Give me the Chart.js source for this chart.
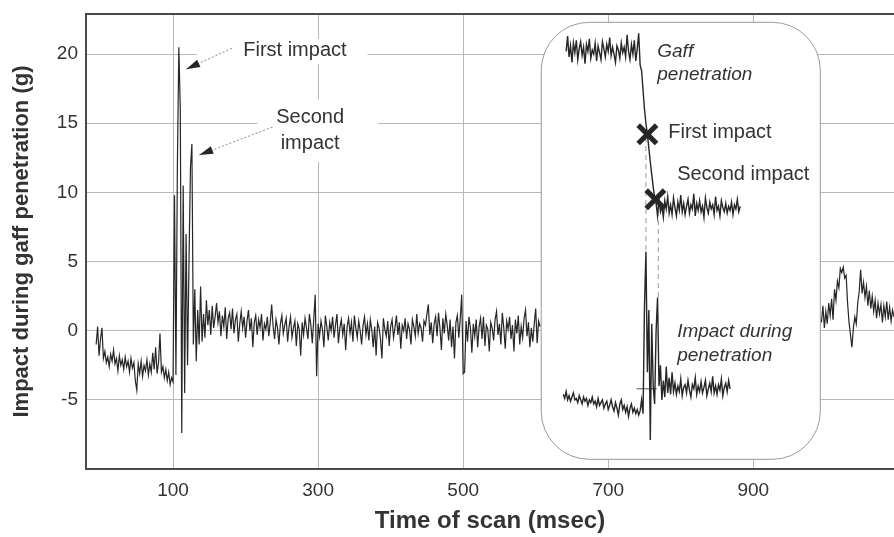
<!DOCTYPE html>
<html>
<head>
<meta charset="utf-8">
<script src="https://cdn.jsdelivr.net/npm/chart.js@4.4.0/dist/chart.umd.min.js"></script>
<style>
  html, body { margin: 0; padding: 0; background: #fff; }
  #wrap { width: 894px; height: 537px; }
</style>
</head>
<body>
<div id="wrap"><canvas id="chart" width="894" height="537"></canvas></div>
<script>
/* ====== DATA (g, sampled every 2 msec) ====== */
const STEP_MS = 2;

const xTicks = [100, 300, 500, 700, 900];
const yTicks = [-10, -5, 0, 5, 10, 15, 20];

// main trace before the strike, starts at -6 msec
const preImpact = [
  -1.0, 0.3, -1.8, -0.6, 0.2, -2.0, -1.5, -2.3, -1.9, -2.6,
  -1.7, -2.2, -1.4, -2.4, -2.0, -2.9, -1.8, -2.5, -2.1, -2.8,
  -1.9, -2.6, -2.2, -3.0, -2.0, -2.7, -2.3, -3.6, -4.3, -2.4,
  -3.1, -2.2, -3.3, -2.5, -2.9, -2.1, -3.2, -2.4, -3.0, -1.6,
  -2.8, -1.2, -3.1, -2.3, -0.2, -3.0, -2.6, -3.4, -2.8, -3.6,
  -3.0, -3.9, -3.4
];
// impact burst, starts at 100 msec
const impactBurst = [
  -3.7, 9.8, -3.2, 12.0, 20.5, 16.0, -7.4, 10.5, -4.5, 7.0,
  -2.5, 5.0, 11.8, 13.5, -1.0, 3.0, -2.2, 1.5, -1.0, 3.2, -0.8
];
// after impact, starts at 142 msec
const afterImpact = [
  1.2, -0.5, 2.2, 0.4, 1.5, -0.3, 1.8, 0.2, 1.0, 2.0,
  0.6, 1.4, -0.4, 1.1, 0.3, 1.7, -0.6, 0.9, 1.3, 0.1,
  1.6, -0.2, 0.8, 1.2, -0.8, 0.5, 1.4, 0.2, 1.0, -0.5,
  0.7, 1.5, 0.0, 0.9, -1.2, 0.6, 1.1, -0.3, 0.8, 0.2,
  1.2, -0.7, 0.5, 0.1, 1.0, -0.4, 0.6, 1.9, 0.3, -0.6,
  0.8, 0.2, -1.0, 0.5, 1.1, -0.2, 0.4, 0.9, -0.8, 0.3,
  1.0, -0.5, 0.2, 0.7, -1.1, 0.5, 0.1, -1.8, 0.6, -0.3,
  0.9, 0.2, -0.6, 1.2, 0.4, -0.9, 0.8, 2.6, -3.3, 0.5,
  -0.4, 0.7, 0.1, -1.2, 1.1, 0.3, -0.7, 0.6, 0.0, 1.0,
  -0.5, 0.4, 1.2, -0.9, 0.2, 0.8, -0.3, 0.5, -1.4, 0.3,
  0.9, -0.2, 0.6, -0.8, 1.1, 0.2, -0.5, 0.7, 0.0, -1.0,
  0.4, 1.0, -0.3, 0.5, -0.7, 0.8, 0.1, -1.2, 0.3, -1.8,
  0.6, 0.2, -0.6, -2.0, 0.9, 0.1, -0.4, 0.7, -1.1, 0.3,
  0.8, -0.5, 0.2, 1.1, -0.3, 0.6, -1.3, 0.4, 0.0, 0.9,
  -0.6, 0.5, 0.1, -1.0, 0.8, 0.3, -0.4, 1.2, -0.2, 0.5,
  0.2, -0.8, 0.7, 0.4, 1.2, 1.9, -0.3, 0.6, -0.9, 0.5,
  1.0, -0.4, 1.3, 0.2, -1.4, 0.9, -0.2, 1.2, 0.4, -0.7,
  0.8, -1.2, 0.3, -2.0, 0.6, 1.1, -0.5, 0.9, 2.6, -3.1,
  -3.0, 0.7, -0.8, 1.0, 0.2, -1.6, 0.5, -0.4, 0.8, -1.2,
  0.3, 0.9, -0.6, 1.0, -1.1, 0.4, 0.1, -1.5, 0.6, 0.2,
  -0.7, 0.8, 1.4, -0.3, 0.5, -1.0, 1.3, 0.2, -1.3, 0.7,
  0.1, 1.0, -0.6, 0.4, -1.5, 0.8, -0.2, 1.1, -1.0, 0.3,
  -0.5, 0.9, 1.5, -0.4, 0.6, -1.2, 0.2, -0.8, 0.5, 1.6,
  -0.9, 0.7, 0.3
];
// trace to the right of the inset, starts at 994 msec
const tailTrace = [
  0.6, 1.8, 0.2, 1.4, 0.5, 2.0, 1.1, 2.3, 0.8, 3.0,
  2.2, 3.6, 3.1, 4.5, 4.2, 4.6, 3.8, 4.0, 2.0, 0.6,
  -0.3, -1.2, 0.2, 1.0, 0.5, 2.0, 2.8, 4.4, 2.7, 3.5,
  2.4, 3.2, 1.8, 2.9, 1.6, 2.5, 1.4, 2.2, 0.9, 2.0,
  1.2, 1.9, 0.6, 1.8, 1.0, 2.1, 0.8, 1.7, 0.7, 1.5, 1.0
];

// inset, upper record (gaff penetration), starts at 642 msec
const gaffTop = [
  20.2, 21.3, 19.8, 20.6, 19.4, 20.8, 20.1, 21.0, 19.6, 20.4,
  20.9, 19.9, 20.5, 19.3, 20.7, 20.2, 21.1, 19.7, 20.3, 20.0,
  20.8, 19.5, 20.6, 20.1, 19.6, 20.9, 20.4, 19.8, 20.7, 20.2,
  21.2, 19.9, 20.5, 20.0, 19.4, 20.6, 20.3, 19.7, 20.8, 20.1,
  20.5, 19.8, 21.4, 20.2, 19.6, 20.7, 20.0, 21.0, 19.5, 20.4,
  21.5, 19.2,
  18.8, 17.4, 16.0, 15.0, 14.2, 13.2, 12.2, 11.3, 10.4, 9.6,
  9.2, 8.3, 9.5, 8.6, 9.0, 8.2, 9.4, 8.8, 9.7, 8.5,
  9.1, 8.4, 9.6, 8.9, 8.3, 9.3, 8.7, 9.8, 8.6, 9.2,
  8.4, 9.0, 9.5, 8.5, 9.1, 8.8, 9.9, 8.3, 9.2, 8.7,
  9.4, 8.6, 9.0, 8.2, 9.6, 8.9, 8.5, 9.3, 8.8, 9.1,
  8.4, 9.7, 8.7, 9.0, 8.3, 9.4, 8.9, 8.6, 9.2, 8.5,
  9.0, 8.7, 9.3, 8.4, 9.1, 8.8, 9.5, 8.6, 9.0
];
// inset, lower record (impact during penetration), starts at 638 msec
const gaffBottom = [
  -4.6, -4.9, -4.4, -5.0, -4.7, -5.1, -4.8, -4.5, -5.0, -4.9,
  -5.2, -4.7, -5.0, -5.3, -4.8, -5.1, -4.9, -5.4, -5.0, -5.2,
  -4.8, -5.3, -5.1, -5.5, -4.9, -5.4, -5.2, -5.0, -5.6, -5.3,
  -5.1, -5.7, -5.4, -5.0, -5.5, -5.8, -5.2, -5.6, -6.1, -5.3,
  -5.0, -5.7, -5.4, -5.9, -5.5, -6.2, -5.6, -5.3, -5.9, -5.6,
  -6.0, -5.7, -6.1, -5.8,
  -5.0, -6.0, 1.8, 5.7, -3.0, 1.5, -7.9, 0.5, -4.0, -5.3,
  0.0, 2.4, -4.0, -2.5, -5.0, -3.6, -4.8, -2.6, -4.5, -3.4,
  -4.6, -3.0, -4.4,
  -3.8, -4.6, -4.0, -4.4, -3.5, -4.7, -4.1, -3.9, -4.5, -3.6,
  -4.3, -4.8, -3.9, -4.2, -3.4, -4.6, -4.0, -4.4, -3.7, -4.5,
  -4.1, -3.6, -4.7, -4.2, -3.8, -4.4, -3.3, -4.5, -4.0, -4.6,
  -3.9, -4.3, -3.5, -4.7, -4.1, -3.8, -4.4, -3.6, -4.2
];

// impact marks on the upper inset record [msec, g]
const impactMarks = [[754, 14.2], [765, 9.5]];
// dashed guides from the marks down to the lower record
const guideFirst = [[752, 14.0], [752, 5.7]];
const guideSecond = [[769, 9.3], [769, 2.4]];
const baseMark = [[739, -4.2], [767, -4.2]];

/* ====== BUILD POINTS ====== */
function toPoints(start, values) {
  return values.map((v, i) => ({ x: start + i * STEP_MS, y: v }));
}
const pairs = (arr) => arr.map((p) => ({ x: p[0], y: p[1] }));

const mainPoints = [
  ...toPoints(-6, preImpact),
  ...toPoints(100, impactBurst),
  ...toPoints(142, afterImpact),
];

const INK = "#262626";
const TXT = "#333333";
const FONT = "'Liberation Sans', Arial, sans-serif";

/* ====== DECORATION PLUGIN ====== */
function arrow(ctx, x0, y0, x1, y1) {
  ctx.save();
  ctx.strokeStyle = "#8a8a8a";
  ctx.lineWidth = 1;
  ctx.setLineDash([2, 2]);
  ctx.beginPath();
  ctx.moveTo(x0, y0);
  ctx.lineTo(x1, y1);
  ctx.stroke();
  ctx.setLineDash([]);
  const a = Math.atan2(y1 - y0, x1 - x0);
  const L = 14, W = 4;
  ctx.fillStyle = INK;
  ctx.beginPath();
  ctx.moveTo(x1, y1);
  ctx.lineTo(x1 - L * Math.cos(a) + W * Math.sin(a), y1 - L * Math.sin(a) - W * Math.cos(a));
  ctx.lineTo(x1 - L * Math.cos(a) - W * Math.sin(a), y1 - L * Math.sin(a) + W * Math.cos(a));
  ctx.closePath();
  ctx.fill();
  ctx.restore();
}

// no automatic edge padding: the frame runs to the canvas edge
function noPad(s) {
  s.paddingLeft = 0;
  s.paddingRight = 0;
  s.paddingTop = 0;
  s.paddingBottom = 0;
}

const decor = {
  id: "decor",
  beforeDatasetsDraw(chart) {
    const { ctx, scales: { x, y } } = chart;
    const px = (v) => x.getPixelForValue(v);
    const py = (v) => y.getPixelForValue(v);
    ctx.save();
    // white patches behind the main labels
    ctx.fillStyle = "#fff";
    [[133, 368, 21.1, 19.3], [216, 383, 16.7, 12.2]].forEach((b) => {
      ctx.fillRect(px(b[0]), py(b[2]), px(b[1]) - px(b[0]), py(b[3]) - py(b[2]));
    });
    // inset panel
    const x0 = px(607.6), x1 = px(992.4), y0 = py(22.3), y1 = py(-9.3);
    ctx.beginPath();
    ctx.roundRect(x0, y0, x1 - x0, y1 - y0, 48);
    ctx.fill();
    ctx.strokeStyle = "#9a9a9a";
    ctx.lineWidth = 1;
    ctx.stroke();
    ctx.restore();
  },
  afterDatasetsDraw(chart) {
    const { ctx, chartArea: a, scales: { x, y } } = chart;
    const px = (v) => x.getPixelForValue(v);
    const py = (v) => y.getPixelForValue(v);
    ctx.save();

    // frame
    ctx.strokeStyle = "#4a4a4a";
    ctx.lineWidth = 2;
    ctx.beginPath();
    ctx.moveTo(a.right + 2, a.top);
    ctx.lineTo(a.left, a.top);
    ctx.lineTo(a.left, a.bottom);
    ctx.lineTo(a.right + 2, a.bottom);
    ctx.stroke();

    // main labels
    ctx.fillStyle = TXT;
    ctx.textBaseline = "middle";
    ctx.textAlign = "center";
    ctx.font = "20px " + FONT;
    ctx.fillText("First impact", px(268), py(20.27));
    ctx.fillText("Second", px(289), py(15.44));
    ctx.fillText("impact", px(289), py(13.56));
    arrow(ctx, px(181), py(20.42), px(118), py(18.9));
    arrow(ctx, px(237), py(14.72), px(136), py(12.7));

    // inset labels
    ctx.textAlign = "left";
    ctx.font = "italic 19px " + FONT;
    ctx.fillText("Gaff", px(767.6), py(20.2));
    ctx.fillText("penetration", px(767.6), py(18.54));
    ctx.font = "20px " + FONT;
    ctx.fillText("First impact", px(782.8), py(14.36));
    ctx.fillText("Second impact", px(795), py(11.26));
    ctx.font = "italic 19px " + FONT;
    ctx.fillText("Impact during", px(795), py(-0.07));
    ctx.fillText("penetration", px(795), py(-1.8));
    ctx.restore();
  },
};

/* ====== CHART ====== */
const lineDs = (data, extra) =>
  Object.assign(
    {
      data,
      borderColor: INK,
      borderWidth: 1.2,
      pointRadius: 0,
      tension: 0,
      fill: false,
      order: 2,
    },
    extra || {}
  );

new Chart(document.getElementById("chart"), {
  type: "line",
  data: {
    datasets: [
      {
        data: pairs(impactMarks),
        showLine: false,
        pointStyle: "crossRot",
        pointRadius: 13,
        pointBorderWidth: 5,
        borderColor: INK,
        order: 0,
      },
      lineDs(mainPoints),
      lineDs(toPoints(994, tailTrace)),
      lineDs(toPoints(642, gaffTop), { borderWidth: 1.4 }),
      lineDs(toPoints(638, gaffBottom), { borderWidth: 1.4 }),
      lineDs(pairs(guideFirst), { borderColor: "#9a9a9a", borderWidth: 1, borderDash: [5, 4], order: 3 }),
      lineDs(pairs(guideSecond), { borderColor: "#9a9a9a", borderWidth: 1, borderDash: [5, 4], order: 3 }),
      lineDs(pairs(baseMark), { borderColor: "#555", borderWidth: 1, order: 3 }),
    ],
  },
  options: {
    responsive: false,
    animation: false,
    devicePixelRatio: 1,
    layout: { autoPadding: false, padding: { top: 14, left: 0, right: 0, bottom: 0 } },
    plugins: { legend: { display: false }, tooltip: { enabled: false } },
    scales: {
      x: {
        type: "linear",
        min: -20,
        max: 1094,
        afterBuildTicks: (s) => { s.ticks = xTicks.map((v) => ({ value: v })); },
        afterFit: (s) => { s.height = 68; noPad(s); },
        grid: { color: "#b8b8b8", lineWidth: 1, drawTicks: false },
        border: { display: false },
        ticks: {
          padding: 10,
          color: TXT,
          font: { family: FONT, size: 19 },
          maxRotation: 0,
        },
        title: {
          display: true,
          text: "Time of scan (msec)",
          color: TXT,
          font: { family: FONT, size: 24, weight: "bold" },
          padding: { top: 0, bottom: 1 },
        },
      },
      y: {
        min: -10,
        max: 22.9,
        afterBuildTicks: (s) => { s.ticks = yTicks.map((v) => ({ value: v })); },
        afterFit: (s) => { s.width = 86; noPad(s); },
        grid: { color: "#b8b8b8", lineWidth: 1, drawTicks: false },
        border: { display: false },
        ticks: {
          padding: 8,
          color: TXT,
          font: { family: FONT, size: 19 },
          callback: (v) => (v === -10 ? "" : v),
        },
        title: {
          display: true,
          text: "Impact during gaff penetration (g)",
          color: TXT,
          font: { family: FONT, size: 22, weight: "bold" },
          padding: { top: 9, bottom: 0 },
        },
      },
    },
  },
  plugins: [decor],
});
</script>
</body>
</html>
